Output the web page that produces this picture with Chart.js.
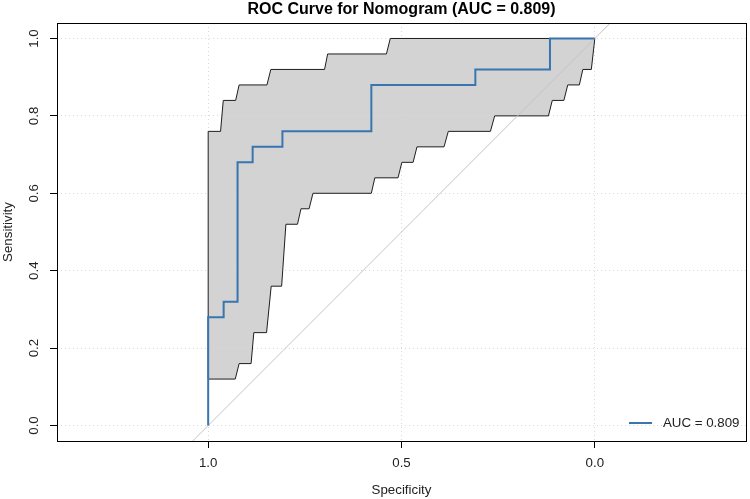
<!DOCTYPE html>
<html>
<head>
<meta charset="utf-8">
<script src="https://cdn.jsdelivr.net/npm/chart.js@4.4.0/dist/chart.umd.min.js"></script>
<style>
  html, body { margin: 0; padding: 0; background: #fff; }
  #wrap { width: 750px; height: 499px; }
</style>
</head>
<body>
<div id="wrap"><canvas id="rocChart" width="750" height="499"></canvas></div>
<script>
// Curva ROC del nomograma (especificidad / sensibilidad)
const rocSpec = [1, 1, 0.96, 0.96, 0.924, 0.924, 0.885, 0.885, 0.808, 0.808, 0.578, 0.578, 0.309, 0.309, 0.116, 0.116, 0];
const rocSens = [0, 0.28, 0.28, 0.32, 0.32, 0.68, 0.68, 0.72, 0.72, 0.76, 0.76, 0.88, 0.88, 0.92, 0.92, 1, 1];

// Banda de confianza: borde superior
const ciUpperSpec = [1, 1, 0.968, 0.961, 0.929, 0.920, 0.848, 0.838, 0.699, 0.691, 0.539, 0.529, 0];
const ciUpperSens = [0.12, 0.76, 0.76, 0.84, 0.84, 0.88, 0.88, 0.92, 0.92, 0.96, 0.96, 1, 1];

// Banda de confianza: borde inferior
const ciLowerSpec = [1, 0.930, 0.920, 0.889, 0.882, 0.849, 0.837, 0.810, 0.799, 0.769, 0.760, 0.739, 0.729,
                     0.578, 0.569, 0.509, 0.499, 0.470, 0.460, 0.390, 0.379, 0.270, 0.259, 0.120, 0.110,
                     0.080, 0.070, 0.040, 0.031, 0.009, 0];
const ciLowerSens = [0.12, 0.12, 0.16, 0.16, 0.24, 0.24, 0.36, 0.36, 0.52, 0.52, 0.56, 0.56, 0.60,
                     0.60, 0.64, 0.64, 0.68, 0.68, 0.72, 0.72, 0.76, 0.76, 0.80, 0.80, 0.84,
                     0.84, 0.88, 0.88, 0.92, 0.92, 1];

// Diagonal de referencia
const diagSpec = [1.5, -0.5];
const diagSens = [-0.5, 1.5];

const xTicks = [1, 0.5, 0];
const yTicks = [0, 0.2, 0.4, 0.6, 0.8, 1];

const titleText = "ROC Curve for Nomogram (AUC = 0.809)";
const legendText = "AUC = 0.809";

const FONT = "'Liberation Sans', Arial, sans-serif";
const BLUE = "#3776b0";

function toPoints(xs, ys) {
    return xs.map((x, i) => ({ x: x, y: ys[i] }));
}

// poligono de la banda: arriba de izquierda a derecha, abajo de vuelta
const bandPoints = toPoints(ciUpperSpec, ciUpperSens)
    .concat(toPoints(ciLowerSpec, ciLowerSens).reverse());

// ===========================
// marco, titulo y leyenda
// ===========================
const decorPlugin = {
    id: "decor",
    afterDraw(chart) {
        const { ctx, chartArea } = chart;
        const a = chartArea;
        ctx.save();
        ctx.strokeStyle = "#000";
        ctx.lineWidth = 1;
        ctx.strokeRect(Math.round(a.left) + 0.5, Math.round(a.top) + 0.5,
            Math.round(a.right - a.left), Math.round(a.bottom - a.top));

        ctx.fillStyle = "#000";
        ctx.font = "bold 16px " + FONT;
        ctx.textAlign = "center";
        ctx.textBaseline = "middle";
        ctx.fillText(titleText, (a.left + a.right) / 2, 9.5);

        // leyenda abajo a la derecha
        const ly = a.bottom - 18;
        ctx.strokeStyle = BLUE;
        ctx.lineWidth = 2;
        ctx.beginPath();
        ctx.moveTo(a.right - 117, ly);
        ctx.lineTo(a.right - 94, ly);
        ctx.stroke();
        ctx.fillStyle = "#222";
        ctx.font = "13.3px " + FONT;
        ctx.textAlign = "left";
        ctx.fillText(legendText, a.right - 83, ly + 0.5);
        ctx.restore();
    }
};

const gridOpts = {
    color: "#d9d9d9",
    lineWidth: 1,
    tickLength: 7,
    tickColor: "#000",
    tickWidth: 1,
    tickBorderDash: []
};

new Chart(document.getElementById("rocChart"), {
    type: "line",
    data: {
        datasets: [
            {
                label: "ROC",
                data: toPoints(rocSpec, rocSens),
                borderColor: BLUE,
                borderWidth: 2,
                pointRadius: 0,
                fill: false,
                order: 1
            },
            {
                label: "diag",
                data: toPoints(diagSpec, diagSens),
                borderColor: "#c4c4c4",
                borderWidth: 1,
                pointRadius: 0,
                fill: false,
                clip: 0,
                order: 2
            },
            {
                label: "CI",
                data: bandPoints,
                borderColor: "#1e1e1e",
                borderWidth: 1,
                backgroundColor: "#d3d3d3",
                pointRadius: 0,
                fill: "shape",
                order: 3
            }
        ]
    },
    options: {
        responsive: false,
        devicePixelRatio: 1,
        animation: false,
        layout: { padding: { top: 23, right: 4, left: 0, bottom: 0 } },
        plugins: {
            legend: { display: false },
            title: { display: false },
            tooltip: { enabled: false },
            // el relleno gris va debajo de la rejilla
            filler: { drawTime: "beforeDraw" }
        },
        scales: {
            x: {
                type: "linear",
                reverse: true,
                min: -0.391,
                max: 1.391,
                afterBuildTicks: (scale) => { scale.ticks = xTicks.map(v => ({ value: v })); },
                afterFit: (scale) => { scale.height = 58; },
                ticks: {
                    color: "#222",
                    font: { family: FONT, size: 13.3 },
                    padding: 7,
                    maxRotation: 0,
                    callback: (v) => Number(v).toFixed(1)
                },
                grid: gridOpts,
                border: { display: false, dash: [1, 3] },
                title: {
                    display: true,
                    text: "Specificity",
                    color: "#222",
                    font: { family: FONT, size: 13.3 },
                    padding: { top: 0, bottom: 1 }
                }
            },
            y: {
                type: "linear",
                min: -0.04,
                max: 1.04,
                afterBuildTicks: (scale) => { scale.ticks = yTicks.map(v => ({ value: v })); },
                afterFit: (scale) => { scale.width = 57; },
                ticks: {
                    color: "#222",
                    font: { family: FONT, size: 13.3 },
                    padding: 6,
                    minRotation: 90,
                    maxRotation: 90,
                    crossAlign: "center",
                    callback: (v) => Number(v).toFixed(1)
                },
                grid: gridOpts,
                border: { display: false, dash: [1, 3] },
                title: {
                    display: true,
                    text: "Sensitivity",
                    color: "#222",
                    font: { family: FONT, size: 13.3 },
                    padding: { top: 0, bottom: 0 }
                }
            }
        }
    },
    plugins: [decorPlugin]
});
</script>
</body>
</html>
